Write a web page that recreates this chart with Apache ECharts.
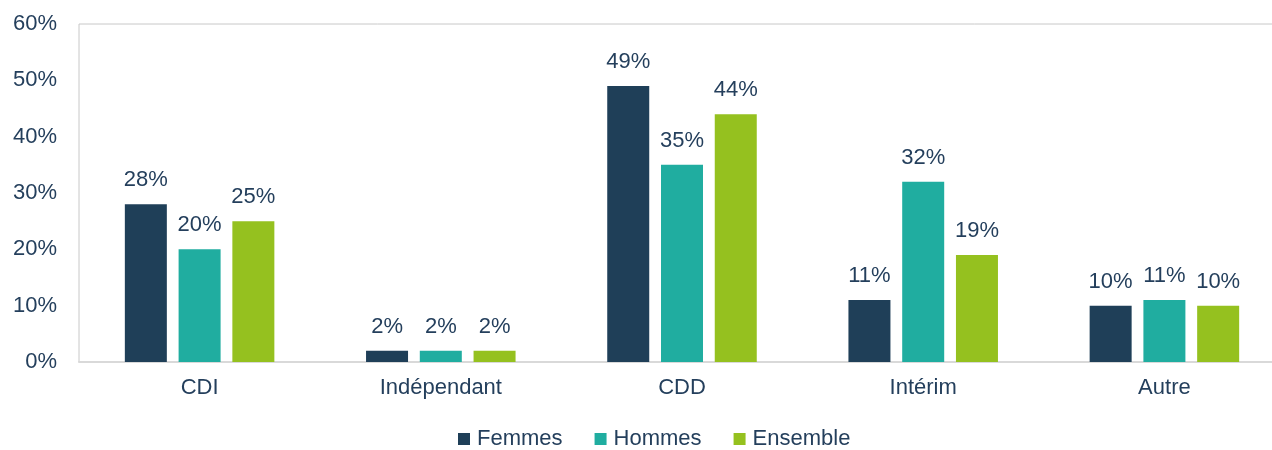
<!DOCTYPE html>
<html><head><meta charset="utf-8">
<script src="https://cdn.jsdelivr.net/npm/echarts@6/dist/echarts.min.js"></script>
<style>html,body{margin:0;padding:0;background:#fff}#c{width:1272px;height:450px}</style>
</head><body><div id="c"></div>
<script>
const categories = ['CDI', 'Indépendant', 'CDD', 'Intérim', 'Autre'];
const femmes = [28, 2, 49, 11, 10];
const hommes = [20, 2, 35, 32, 11];
const ensemble = [25, 2, 44, 19, 10];
const seriesNames = ['Femmes', 'Hommes', 'Ensemble'];
const colors = ['#1f3f58', '#20ada0', '#95c11f'];
const textColor = '#243f5c';
const font = 'Liberation Sans, Arial, sans-serif';

const chart = echarts.init(document.getElementById('c'));
const mk = (name, data, color) => ({
  name, type: 'bar', data, barWidth: 42, barGap: '28%',
  itemStyle: { color },
  label: { show: true, position: 'top', distance: 13, formatter: '{c}%', color: textColor, fontSize: 22, fontFamily: font }
});
chart.setOption({
  animation: false,
  color: colors,
  grid: { left: 79, width: 1206, top: 24, height: 338, show: true, borderColor: '#c8c8c8', borderWidth: 1, outerBoundsMode: 'none', containLabel: false },
  legend: {
    top: 428, left: 458, itemWidth: 12, itemHeight: 12, itemGap: 32, icon: 'rect', padding: 0,
    textStyle: { color: textColor, fontSize: 22, fontFamily: font, padding: [0, 0, 0, 2] }
  },
  xAxis: {
    type: 'category', data: categories,
    axisLine: { lineStyle: { color: '#d9d9d9', width: 2 } },
    axisTick: { show: false },
    axisLabel: { color: textColor, fontSize: 22, fontFamily: font, margin: 15 }
  },
  yAxis: {
    type: 'value', min: 0, max: 60, interval: 10,
    splitLine: { show: false },
    axisLine: { show: false },
    axisLabel: { formatter: '{value}%', color: textColor, fontSize: 22, fontFamily: font, margin: 22 }
  },
  series: [mk(seriesNames[0], femmes, colors[0]), mk(seriesNames[1], hommes, colors[1]), mk(seriesNames[2], ensemble, colors[2])]
});
</script></body></html>
